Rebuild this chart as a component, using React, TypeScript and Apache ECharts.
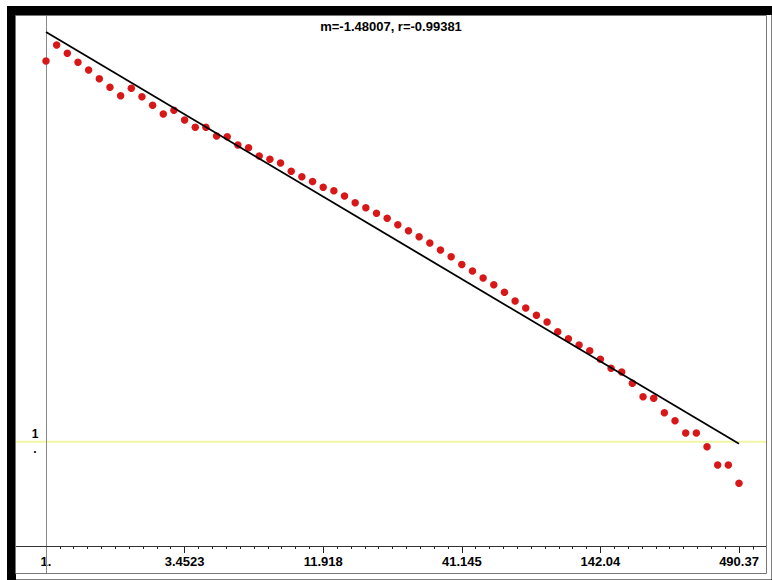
import React, { useEffect, useRef } from "react";
import * as echarts from "echarts";

// x values of the points (log-spaced bins)
const xValues = [
  1, 1.1, 1.21, 1.331, 1.4641, 1.6105, 1.7716, 1.9487, 2.1436, 2.3579,
  2.5937, 2.8531, 3.1384, 3.4523, 3.7975, 4.1772, 4.595, 5.0545, 5.5599, 6.1159,
  6.7275, 7.4002, 8.1403, 8.9543, 9.8497, 10.835, 11.918, 13.11, 14.421, 15.863,
  17.449, 19.194, 21.114, 23.225, 25.548, 28.102, 30.913, 34.004, 37.404, 41.145,
  45.259, 49.785, 54.764, 60.24, 66.264, 72.89, 80.18, 88.197, 97.017, 106.72,
  117.39, 129.13, 142.04, 156.25, 171.87, 189.06, 207.97, 228.76, 251.64, 276.8,
  304.48, 334.93, 368.43, 405.27, 445.79, 490.37,
];
// y values of the points
const yValues = [
  4806, 6864, 5706, 4670, 3934, 3240, 2676, 2220, 2617, 2171,
  1792, 1476, 1603, 1292, 1098, 1098, 904.5, 890.5, 740.4, 697.2,
  579.7, 538.4, 496.0, 412.2, 365.5, 328.4, 288.6, 267.6, 237.8, 204.8,
  183.3, 161.8, 144.7, 125.5, 109.8, 96.07, 83.5, 71.45, 61.54, 51.72,
  44.76, 38.3, 33.0, 27.86, 22.95, 19.63, 16.69, 14.38, 11.58, 9.91,
  8.615, 7.588, 6.28, 5.128, 4.722, 3.671, 2.724, 2.629, 1.908, 1.596,
  1.214, 1.214, 0.8947, 0.5953, 0.5953, 0.396,
];
const tickLabels = ["1.", "3.4523", "11.918", "41.145", "142.04", "490.37"];
const tickStep = 3.4523;
const fitX = [1, 490.37];
const fitY = [9170, 0.9556];
const refY = 1;
const yRange = [0.09801, 13092];
const titleText = "m=-1.48007, r=-0.99381";

const FONT = '"Liberation Sans", Arial, sans-serif';

export default function App() {
  const ref = useRef<HTMLDivElement>(null);
  useEffect(() => {
    const chart = echarts.init(ref.current!, null, { renderer: "svg" });
    const lx = (v: number) => Math.log10(v);
    const interval = Math.log10(tickStep);
    const xMax = interval * (tickLabels.length - 1);
    chart.setOption({
      animation: false,
      backgroundColor: "#ffffff",
      title: {
        text: titleText,
        left: 391,
        top: 20,
        padding: 0,
        textAlign: "center",
        textStyle: { fontFamily: FONT, fontWeight: "bold", fontSize: 13, color: "#000" },
      },
      grid: { left: 46, right: 33, top: 16, bottom: 34 },
      xAxis: {
        type: "value",
        min: 0,
        max: xMax,
        interval: interval,
        axisLine: { show: true, lineStyle: { color: "#333", width: 1 } },
        axisTick: { show: true, length: 7, lineStyle: { color: "#222" } },
        minorTick: { show: true, splitNumber: 10, length: 3, lineStyle: { color: "#222" } },
        splitLine: { show: false },
        minorSplitLine: { show: false },
        axisLabel: {
          margin: 9,
          fontFamily: FONT,
          fontWeight: "bold",
          fontSize: 13,
          color: "#000",
          showMinLabel: true,
          showMaxLabel: true,
          formatter: (v: number) => {
            const k = Math.round(v / interval);
            return Math.abs(v - k * interval) < 1e-6 ? tickLabels[k] ?? "" : "";
          },
        },
      },
      yAxis: {
        type: "log",
        logBase: 10,
        min: yRange[0],
        max: yRange[1],
        axisLine: { show: true, lineStyle: { color: "#888", width: 1 } },
        axisTick: { show: false },
        splitLine: { show: false },
        axisLabel: {
          margin: 11,
          align: "center",
          fontFamily: FONT,
          fontWeight: "bold",
          fontSize: 12,
          lineHeight: 15,
          padding: [0, 0, 6, 0],
          color: "#000",
          formatter: (v: number) => (Math.abs(v - refY) < 1e-6 ? "1\n." : ""),
        },
      },
      series: [
        {
          type: "scatter",
          symbol: "circle",
          symbolSize: 7.5,
          itemStyle: { color: "#d81818", opacity: 1 },
          data: xValues.map((x, i) => [lx(x), yValues[i]]),
          z: 3,
        },
        {
          type: "line",
          showSymbol: false,
          symbol: "none",
          lineStyle: { color: "#000", width: 1.8 },
          data: fitX.map((x, i) => [lx(x), fitY[i]]),
          z: 4,
        },
      ],
    });

    const yRef = chart.convertToPixel({ yAxisIndex: 0 }, refY) as number;
    const x0 = chart.convertToPixel({ xAxisIndex: 0 }, 0) as number;
    const xEnd = chart.convertToPixel({ xAxisIndex: 0 }, xMax) as number;
    const yBottom = chart.convertToPixel({ yAxisIndex: 0 }, yRange[0]) as number;
    const minorStep = (xEnd - x0) / ((tickLabels.length - 1) * 10);
    const W = 772;
    const H = 580;
    chart.setOption({
      graphic: [
        {
          type: "line",
          z: 1,
          shape: { x1: 16, y1: yRef, x2: 767, y2: yRef },
          style: { stroke: "#f4f4a6", lineWidth: 2 },
        },
        {
          type: "line",
          z: 1,
          shape: { x1: Math.round(x0) + 0.5, y1: 16, x2: Math.round(x0) + 0.5, y2: 574 },
          style: { stroke: "#888", lineWidth: 1 },
        },
        {
          type: "line",
          z: 1,
          shape: { x1: 16, y1: Math.round(yBottom) + 0.5, x2: 767, y2: Math.round(yBottom) + 0.5 },
          style: { stroke: "#333", lineWidth: 1 },
        },
        {
          type: "line",
          z: 1,
          shape: {
            x1: Math.round(xEnd + minorStep) + 0.5,
            y1: Math.round(yBottom) + 0.5,
            x2: Math.round(xEnd + minorStep) + 0.5,
            y2: Math.round(yBottom) + 3.5,
          },
          style: { stroke: "#222", lineWidth: 1 },
        },
        {
          type: "rect",
          z: 100,
          shape: { x: 11.5, y: 10.5, width: W - 11.5 + 4, height: H - 10.5 + 4 },
          style: { fill: "none", stroke: "#000", lineWidth: 9 },
        },
        {
          type: "rect",
          z: 101,
          shape: { x: 15.5, y: 15.5, width: 751, height: 558 },
          style: { fill: "none", stroke: "#777", lineWidth: 1 },
        },
      ],
    });
    return () => chart.dispose();
  }, []);
  return (
    <div
      ref={ref}
      style={{ position: "fixed", left: 0, top: 0, width: 772, height: 580 }}
    />
  );
}
